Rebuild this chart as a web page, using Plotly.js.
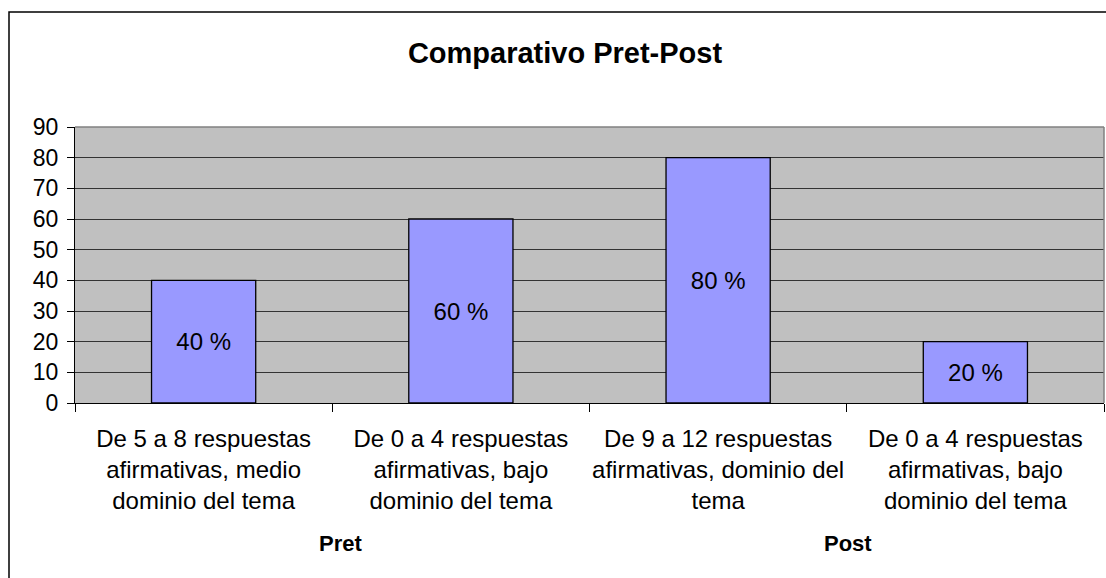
<!DOCTYPE html>
<html>
<head>
<meta charset="utf-8">
<script src="https://cdn.plot.ly/plotly-3.0.1.min.js"></script>
<style>html,body{margin:0;padding:0;background:#fff;}#chart{width:1106px;height:578px;}</style>
</head>
<body>
<div id="chart"></div>
<script>
var categories = ["Pret-1", "Pret-2", "Post-1", "Post-2"];
var categoryLabels = [
  "De 5 a 8 respuestas<br>afirmativas, medio<br>dominio del tema",
  "De 0 a 4 respuestas<br>afirmativas, bajo<br>dominio del tema",
  "De 9 a 12 respuestas<br>afirmativas, dominio del<br>tema",
  "De 0 a 4 respuestas<br>afirmativas, bajo<br>dominio del tema"
];
var values = [40, 60, 80, 20];
var valueLabels = ["40 %", "60 %", "80 %", "20 %"];
var groups = ["Pret", "Post"];
var yTicks = [0, 10, 20, 30, 40, 50, 60, 70, 80, 90];

var FONT = "Arial, 'Liberation Sans', sans-serif";
var L = 75, R = 1104, T = 127, B = 403;
var W = 1106, H = 578;
function px(x) { return (x - L) / (R - L); }
function py(y) { return (B - y) / (B - T); }

var trace = {
  type: "bar",
  x: categories,
  y: values,
  text: valueLabels,
  textposition: "inside",
  insidetextanchor: "middle",
  textangle: 0,
  constraintext: "none",
  textfont: {family: FONT, size: 24, color: "#000"},
  marker: {color: "#9999FF", line: {color: "#000", width: 1.3}},
  width: 0.405,
  hoverinfo: "none"
};

var layout = {
  width: W, height: H,
  margin: {l: L, r: W - R, t: T, b: H - B, pad: 0},
  paper_bgcolor: "#fff",
  plot_bgcolor: "#C0C0C0",
  showlegend: false,
  title: {
    text: "<b>Comparativo Pret-Post</b>",
    font: {family: FONT, size: 29, color: "#000"},
    x: 565 / W, xanchor: "center",
    y: 1 - 53 / H, yanchor: "middle"
  },
  xaxis: {
    type: "category",
    tickmode: "array",
    tickvals: categories,
    ticktext: categoryLabels,
    tickson: "boundaries",
    ticks: "outside",
    ticklen: 8,
    tickcolor: "#000",
    tickwidth: 1,
    ticklabelstandoff: 14,
    showline: true,
    linecolor: "#000",
    linewidth: 1,
    showgrid: false,
    tickfont: {family: FONT, size: 24, color: "#000"},
    tickangle: 0,
    automargin: false,
    fixedrange: true
  },
  yaxis: {
    range: [0, 90],
    tickmode: "array",
    tickvals: yTicks,
    ticktext: yTicks.map(String),
    ticks: "outside",
    ticklen: 7,
    tickcolor: "#000",
    ticklabelstandoff: 4,
    showline: true,
    linecolor: "#000",
    linewidth: 1,
    showgrid: true,
    gridcolor: "#333",
    gridwidth: 1,
    zeroline: false,
    tickfont: {family: FONT, size: 23, color: "#000"},
    automargin: false,
    fixedrange: true
  },
  shapes: [
    {type: "line", xref: "paper", yref: "paper", x0: 0, x1: 1, y0: 1, y1: 1, line: {color: "#808080", width: 1.5}},
    {type: "line", xref: "paper", yref: "paper", x0: 1, x1: 1, y0: 0, y1: 1, line: {color: "#808080", width: 1.5}},
    {type: "rect", xref: "paper", yref: "paper", x0: px(9), x1: px(1121), y0: py(12), y1: py(600), line: {color: "#000", width: 1.5}, fillcolor: "rgba(0,0,0,0)"}
  ],
  annotations: [
    {text: "<b>" + groups[0] + "</b>", xref: "paper", yref: "paper", x: px(340), y: py(543), xanchor: "center", yanchor: "middle", showarrow: false, font: {family: FONT, size: 22, color: "#000"}},
    {text: "<b>" + groups[1] + "</b>", xref: "paper", yref: "paper", x: px(848), y: py(543), xanchor: "center", yanchor: "middle", showarrow: false, font: {family: FONT, size: 22, color: "#000"}}
  ]
};

Plotly.newPlot("chart", [trace], layout, {staticPlot: true, displayModeBar: false});
</script>
</body>
</html>
